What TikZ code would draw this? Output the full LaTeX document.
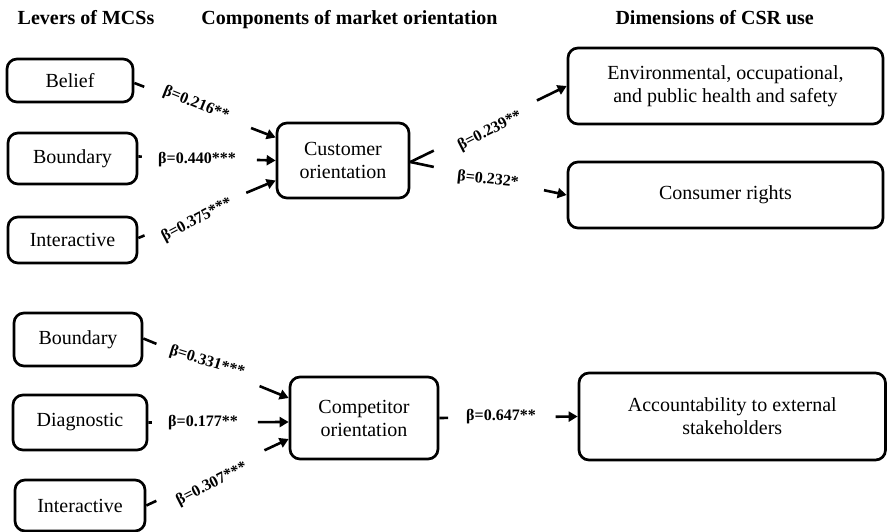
\documentclass[tikz,border=0pt]{standalone}
\usepackage{fontspec}
\setmainfont{Liberation Serif}
\usetikzlibrary{arrows.meta,calc}
\begin{document}
\begin{tikzpicture}[x=1pt,y=-1pt,
  box/.style={draw,line width=2.7pt,rounded corners=10pt,inner sep=0pt,align=center,font=\fontsize{20}{23}\selectfont},
  hdr/.style={font=\bfseries\fontsize{20}{23}\selectfont,anchor=base},
  lbl/.style={font=\bfseries\fontsize{16}{18}\selectfont,inner sep=0pt},
  conn/.style={line width=2.6pt},
  arr/.style={line width=2.6pt,-{Triangle[length=9pt,width=10pt]}}
]
\useasboundingbox (0,0) rectangle (887,532);
% headers
\node[hdr] (h1) at (86,25) {Levers of MCSs};
\node[hdr] (h2) at (349.5,25) {Components of market orientation};
\node[hdr] (h3) at (714.7,25) {Dimensions of CSR use};
% top boxes
\node[box,minimum width=126pt,minimum height=43pt] (belief) at (70,80.5) {Belief};
\node[box,minimum width=129pt,minimum height=51pt] (bound1) at (72.5,158.5) {Boundary};
\node[box,minimum width=129pt,minimum height=46pt] (inter1) at (72.5,240) {Interactive};
\node[box,minimum width=132pt,minimum height=75pt] (cust) at (343,160.5) {Customer\\orientation};
\node[box,minimum width=315pt,minimum height=76pt] (env) at (725.5,86) {Environmental, occupational,\\and public health and safety};
\node[box,minimum width=315pt,minimum height=66pt] (cons) at (725.5,195) {Consumer rights};
% bottom boxes
\node[box,minimum width=128pt,minimum height=53pt] (bound2) at (78,339.5) {Boundary};
\node[box,minimum width=134pt,minimum height=55pt] (diag) at (80,422.5) {Diagnostic};
\node[box,minimum width=130pt,minimum height=51pt] (inter2) at (80,505.5) {Interactive};
\node[box,minimum width=148pt,minimum height=82pt] (comp) at (364,418) {Competitor\\orientation};
\node[box,minimum width=306.5pt,minimum height=87pt] (acc) at (732.25,416.5) {Accountability to external\\stakeholders};
% top connectors
\coordinate (s1) at ($(belief.east)+(0,2.5)$);
\coordinate (e1) at ($(cust.west)+(0,-23)$);
\draw[conn] (s1) -- ($(s1)!0.07!(e1)$);
\draw[arr] ($(s1)!0.826!(e1)$) -- (e1);
\coordinate (s2) at ($(bound1.east)+(0,-2)$);
\coordinate (e2) at (cust.west);
\draw[conn] (s2) -- ($(s2)!0.025!(e2)$);
\draw[arr] ($(s2)!0.864!(e2)$) -- (e2);
\coordinate (s3) at ($(inter1.east)+(0,-2)$);
\coordinate (e3) at ($(cust.west)+(0,20)$);
\draw[conn] (s3) -- ($(s3)!0.045!(e3)$);
\draw[arr] ($(s3)!0.786!(e3)$) -- (e3);
\coordinate (s4) at ($(cust.east)+(0,1.5)$);
\coordinate (e4) at (env.west);
\draw[conn] (s4) -- ($(s4)!0.15!(e4)$);
\draw[arr] ($(s4)!0.81!(e4)$) -- (e4);
\coordinate (e5) at (cons.west);
\draw[conn] (s4) -- ($(s4)!0.15!(e5)$);
\draw[arr] ($(s4)!0.855!(e5)$) -- (e5);
% bottom connectors
\coordinate (s6) at ($(bound2.east)+(0,-1)$);
\coordinate (e6) at ($(comp.west)+(0,-20)$);
\draw[conn] (s6) -- ($(s6)!0.09!(e6)$);
\draw[arr] ($(s6)!0.80!(e6)$) -- (e6);
\coordinate (s7) at (diag.east);
\coordinate (e7) at ($(comp.west)+(0,4)$);
\draw[conn] (s7) -- ($(s7)!0.025!(e7)$);
\draw[arr] ($(s7)!0.78!(e7)$) -- (e7);
\coordinate (s8) at (inter2.east);
\coordinate (e8) at ($(comp.west)+(0,21)$);
\draw[conn] (s8) -- ($(s8)!0.07!(e8)$);
\draw[arr] ($(s8)!0.83!(e8)$) -- (e8);
\coordinate (s9) at (comp.east);
\coordinate (e9) at (acc.west);
\draw[conn] (s9) -- ($(s9)!0.064!(e9)$);
\draw[arr] ($(s9)!0.84!(e9)$) -- (e9);
% labels
\node[lbl,rotate=-22] (l1) at (196,104) {β=0.216**};
\node[lbl] (l2) at (197,160) {β=0.440***};
\node[lbl,rotate=28] (l3) at (197,220) {β=0.375***};
\node[lbl,rotate=27] (l4) at (490,131) {β=0.239**};
\node[lbl,rotate=-6] (l5) at (488,180) {β=0.232*};
\node[lbl,rotate=-17] (l6) at (207,362) {β=0.331***};
\node[lbl] (l7) at (203,423) {β=0.177**};
\node[lbl,rotate=27] (l8) at (212,484) {β=0.307***};
\node[lbl] (l9) at (501,417) {β=0.647**};
\end{tikzpicture}
\end{document}
